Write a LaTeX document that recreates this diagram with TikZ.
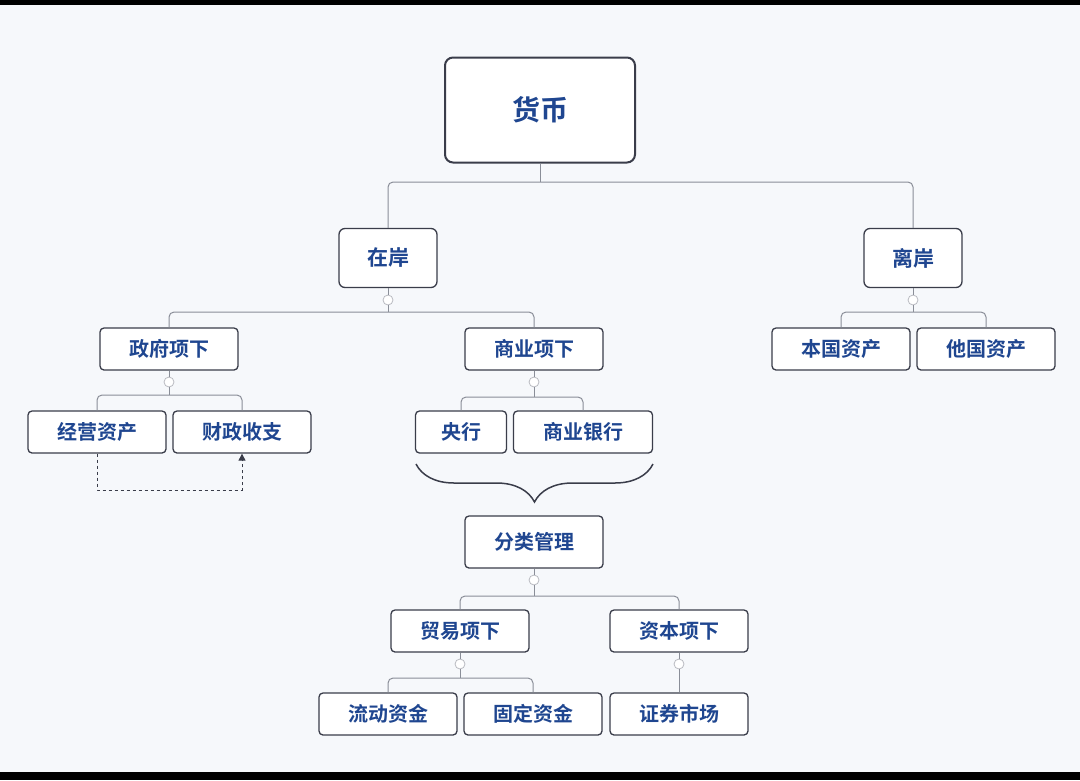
\documentclass[tikz,border=0pt]{standalone}
\usepackage{fontspec}
\newfontfamily\cjk{Noto Sans CJK SC Bold}
\usetikzlibrary{decorations.pathreplacing,arrows.meta}
\definecolor{txt}{HTML}{1F4690}
\definecolor{bd}{HTML}{3A3D4A}
\definecolor{ln}{HTML}{8A8E98}
\definecolor{bg}{HTML}{F6F8FB}
\begin{document}
\begin{tikzpicture}[x=1pt,y=-1pt,
  box/.style={draw=bd,line width=1.3pt,rounded corners=4pt,fill=white,text=txt,font=\cjk\fontsize{20}{20}\selectfont,inner sep=0pt,minimum height=42pt,minimum width=138pt},
  conn/.style={draw=ln,line width=1pt,rounded corners=5pt},
  knob/.style={circle,draw=ln!60,fill=white,line width=0.8pt,minimum size=10pt,inner sep=0pt}]
\fill[bg] (0,0) rectangle (1080,780);
\fill[black] (0,0) rectangle (1080,5);
\fill[black] (0,772) rectangle (1080,780);
\useasboundingbox (0,0) rectangle (1080,780);
\node[box,minimum width=190pt,minimum height=105pt,rounded corners=8pt,line width=2pt,font=\cjk\fontsize{28}{28}\selectfont] (hb) at (540,110) {货币};
\node[box,minimum width=98pt,minimum height=59pt,rounded corners=6pt,font=\cjk\fontsize{21}{21}\selectfont] (za) at (388,258) {在岸};
\node[box,minimum width=98pt,minimum height=59pt,rounded corners=6pt,font=\cjk\fontsize{21}{21}\selectfont] (la) at (913,258) {离岸};
\node[box] (zf) at (169,349) {政府项下};
\node[box] (sy) at (534,349) {商业项下};
\node[box] (bg1) at (841,349) {本国资产};
\node[box] (tg) at (986,349) {他国资产};
\node[box] (jy) at (97,432) {经营资产};
\node[box] (cz) at (242,432) {财政收支};
\node[box,minimum width=91pt] (yh) at (461,432) {央行};
\node[box,minimum width=139pt] (syyh) at (583,432) {商业银行};
\node[box,minimum height=52pt] (fl) at (534,542) {分类管理};
\node[box] (my) at (460,631) {贸易项下};
\node[box] (zb) at (679,631) {资本项下};
\node[box] (ld) at (388,714) {流动资金};
\node[box] (gd) at (533,714) {固定资金};
\node[box] (zq) at (679,714) {证券市场};
% connectors
\draw[conn] (hb.south) -- (540,182);
\draw[conn] (za.north) |- (540,182) -| (la.north);
\node[knob] (k1) at (388,300) {};
\node[knob] (k2) at (913,300) {};
\node[knob] (k3) at (169,382) {};
\node[knob] (k4) at (534,382) {};
\node[knob] (k5) at (534,580) {};
\node[knob] (k6) at (460,664) {};
\node[knob] (k7) at (679,664) {};
\draw[conn] (za.south) -- (k1);
\draw[conn] (k1) -- (388,312);
\draw[conn] (zf.north) |- (388,312) -| (sy.north);
\draw[conn] (la.south) -- (k2);
\draw[conn] (k2) -- (913,312);
\draw[conn] (bg1.north) |- (913,312) -| (tg.north);
\draw[conn] (zf.south) -- (k3);
\draw[conn] (k3) -- (169,395);
\draw[conn] (jy.north) |- (169,395) -| (cz.north);
\draw[conn] (sy.south) -- (k4);
\draw[conn] (k4) -- (534,397);
\draw[conn] (yh.north) |- (534,397) -| (syyh.north);
\draw[conn] (fl.south) -- (k5);
\draw[conn] (k5) -- (534,596);
\draw[conn] (my.north) |- (534,596) -| (zb.north);
\draw[conn] (my.south) -- (k6);
\draw[conn] (k6) -- (460,678);
\draw[conn] (ld.north) |- (460,678) -| (gd.north);
\draw[conn] (zb.south) -- (k7);
\draw[conn] (k7) -- (zq.north);
% dashed
\coordinate (d1) at (97,490);
\coordinate (d2) at (242,490);
\draw[draw=bd,line width=1pt,dashed,-{Triangle[length=7pt,width=7pt]}] (jy.south) -- (d1) -- (d2) -- (cz.south);
% brace
\draw[draw=bd,line width=1.5pt,decorate,decoration={brace,amplitude=38pt,aspect=0.5,mirror}] (416,464) -- (653,464);
\end{tikzpicture}
\end{document}
